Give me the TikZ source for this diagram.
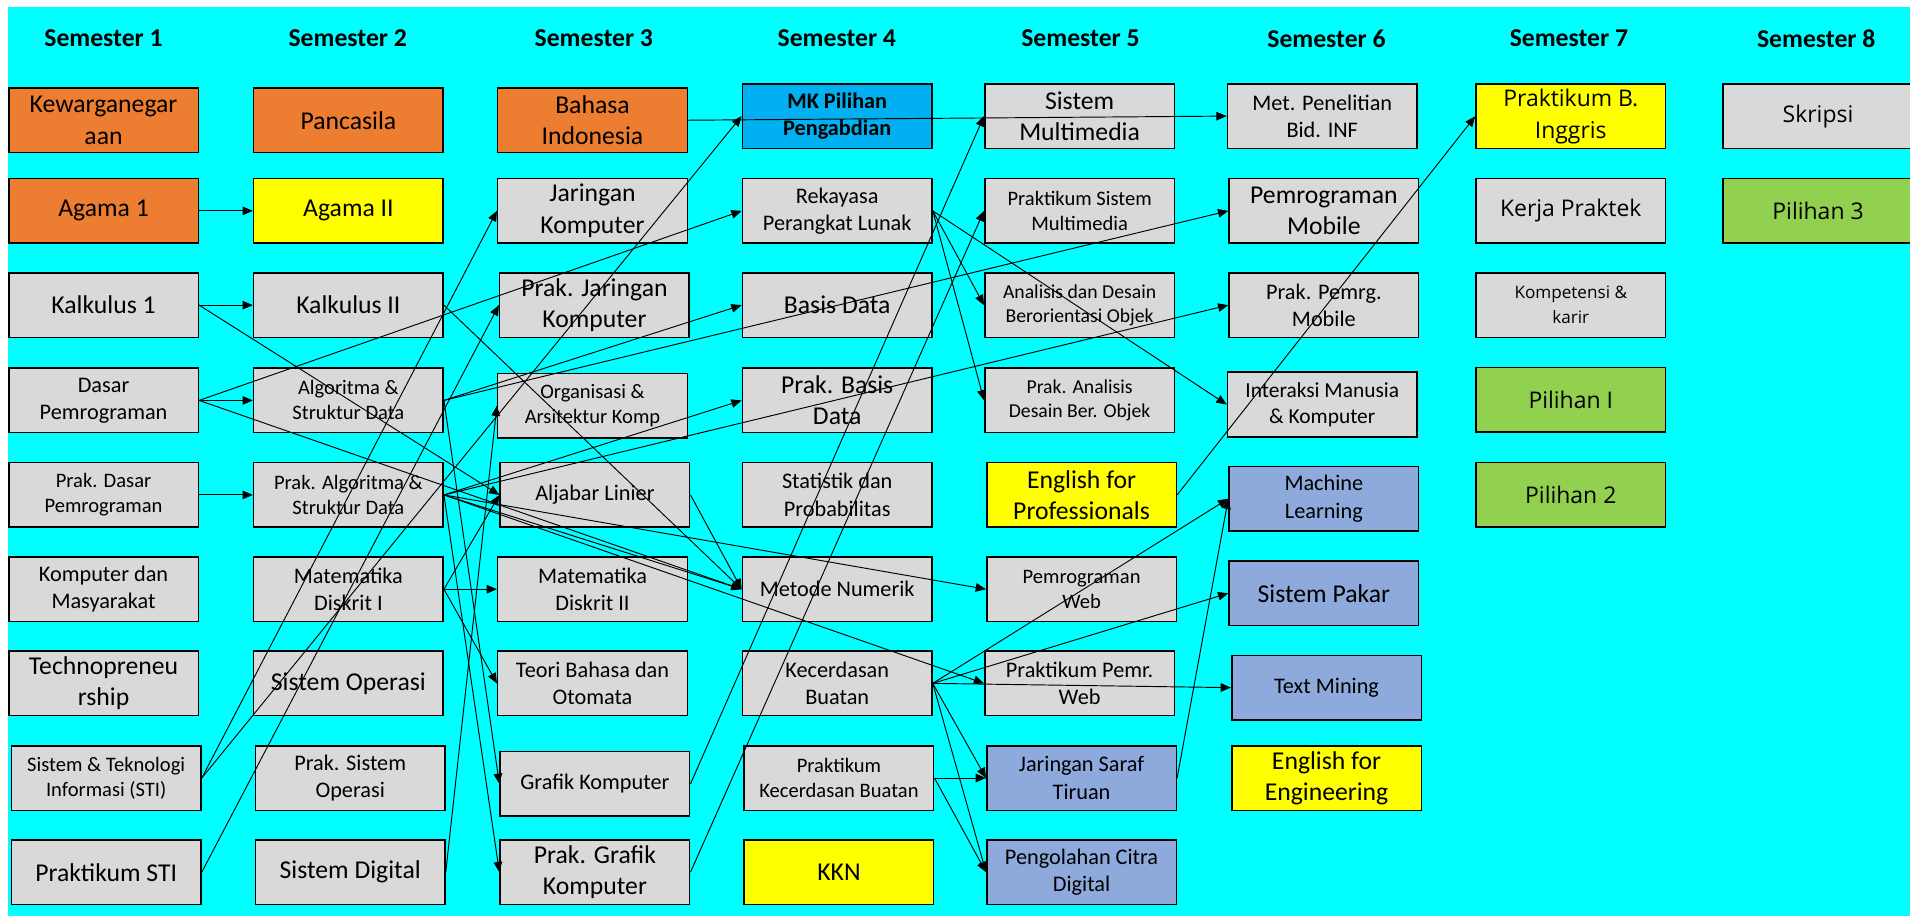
\documentclass[tikz,border=0pt]{standalone}
\usepackage{fontspec}
\setmainfont{Carlito}
\newfontfamily\osans{Open Sans}
\usepackage{tikz}
\usetikzlibrary{arrows.meta}
\definecolor{BgCyan}{HTML}{00FFFF}
\definecolor{MkOrange}{HTML}{ED7D31}
\definecolor{MkYellow}{HTML}{FFFF00}
\definecolor{MkGray}{HTML}{D9D9D9}
\definecolor{MkBlue}{HTML}{00B0F0}
\definecolor{MkLilac}{HTML}{8EA9DB}
\definecolor{MkGreen}{HTML}{92D050}
\tikzset{
  course/.style={rectangle, draw=black, line width=0.9pt, minimum width=3.89cm, minimum height=1.325cm, inner sep=1pt, align=center, font=\fontsize{15}{18.3}\selectfont},
  orangecourse/.style={course, fill=MkOrange},
  yellowcourse/.style={course, fill=MkYellow},
  graycourse/.style={course, fill=MkGray},
  bluecourse/.style={course, fill=MkBlue},
  lilaccourse/.style={course, fill=MkLilac},
  greencourse/.style={course, fill=MkGreen},
  midfont/.style={font=\fontsize{13}{15.9}\selectfont},
  smallfont/.style={font=\fontsize{12}{14.6}\selectfont},
  tinyfont/.style={font=\fontsize{11.5}{14}\selectfont},
  osfont/.style={font=\osans\fontsize{13.4}{18.5}\selectfont},
  semlabel/.style={font=\fontsize{15}{18}\selectfont\bfseries},
  arrow/.style={-{Triangle[length=6pt,width=5pt]}, line width=0.55pt, black}
}
\begin{document}
\begin{tikzpicture}[x=0.025cm, y=-0.025cm]
  \useasboundingbox (0,0) rectangle (1568,752);
  \fill[white] (0,0) rectangle (1568,752);
  \fill[BgCyan] (6.5,5.5) rectangle (1568,752);

  % semester headings
  \node[semlabel] (sem1) at (85,31.5) {Semester 1};
  \node[semlabel] (sem2) at (285.5,31.5) {Semester 2};
  \node[semlabel] (sem3) at (487.5,31.5) {Semester 3};
  \node[semlabel] (sem4) at (687,31.5) {Semester 4};
  \node[semlabel] (sem5) at (887,31.5) {Semester 5};
  \node[semlabel] (sem6) at (1089,31.5) {Semester 6};
  \node[semlabel] (sem7) at (1288,31.5) {Semester 7};
  \node[semlabel] (sem8) at (1491,31.5) {Semester 8};

  % semester 1
  \node[orangecourse] (kew) at (85,98.7) {Kewarganegar\\aan};
  \node[orangecourse] (agama1) at (85,173.1) {Agama 1};
  \node[graycourse] (kalk1) at (85,250.5) {Kalkulus 1};
  \node[graycourse, midfont] (dasar) at (85,328.7) {Dasar\\Pemrograman};
  \node[graycourse, smallfont] (pdasar) at (85,406.3) {Prak. Dasar\\Pemrograman};
  \node[graycourse, midfont] (kommas) at (85,483.7) {Komputer dan\\Masyarakat};
  \node[graycourse] (techno) at (85,561) {Technopreneu\\rship};
  \node[graycourse, smallfont] (sti) at (87.2,638.7) {Sistem \& Teknologi\\Informasi (STI)};
  \node[graycourse] (psti) at (87.2,716) {Praktikum STI};

  % semester 2
  \node[orangecourse] (pancasila) at (286,98.7) {Pancasila};
  \node[yellowcourse] (agama2) at (286,173.1) {Agama II};
  \node[graycourse] (kalk2) at (286,250.5) {Kalkulus II};
  \node[graycourse, smallfont] (algo) at (286,328.7) {Algoritma \&\\Struktur Data};
  \node[graycourse, smallfont] (palgo) at (286,406.3) {Prak. Algoritma \&\\Struktur Data};
  \node[graycourse, midfont] (mdis1) at (286,483.7) {Matematika\\Diskrit I};
  \node[graycourse] (sisop) at (286,561) {Sistem Operasi};
  \node[graycourse, midfont] (psisop) at (287.5,638.7) {Prak. Sistem\\Operasi};
  \node[graycourse] (sdig) at (287.5,716) {Sistem Digital};

  % semester 3
  \node[orangecourse] (bahasa) at (486.4,98.7) {Bahasa\\Indonesia};
  \node[graycourse] (jarkom) at (486.4,173.1) {Jaringan\\Komputer};
  \node[graycourse] (pjarkom) at (488,250.5) {Prak. Jaringan\\Komputer};
  \node[graycourse, smallfont] (orgkom) at (486.4,333) {Organisasi \&\\Arsitektur Komp};
  \node[graycourse, midfont] (aljabar) at (488.4,406.3) {Aljabar Linier};
  \node[graycourse, midfont] (mdis2) at (486.4,483.7) {Matematika\\Diskrit II};
  \node[graycourse, midfont] (teori) at (486.4,561) {Teori Bahasa dan\\Otomata};
  \node[graycourse, midfont] (grafik) at (488.4,643.5) {Grafik Komputer};
  \node[graycourse] (pgrafik) at (488.4,716) {Prak. Grafik\\Komputer};

  % semester 4
  \node[bluecourse, midfont, font=\fontsize{13}{15.9}\selectfont\bfseries] (mkpil) at (687.3,95.3) {MK Pilihan\\Pengabdian};
  \node[graycourse, midfont] (rpl) at (687.3,173.1) {Rekayasa\\Perangkat Lunak};
  \node[graycourse] (basisdata) at (687.3,250.5) {Basis Data};
  \node[graycourse] (pbasisdata) at (687.3,328.7) {Prak. Basis\\Data};
  \node[graycourse, midfont] (statistik) at (687.3,406.3) {Statistik dan\\Probabilitas};
  \node[graycourse, midfont] (metnum) at (687.3,483.7) {Metode Numerik};
  \node[graycourse, midfont] (kb) at (687.3,561) {Kecerdasan\\Buatan};
  \node[graycourse, smallfont] (pkb) at (688.7,638.7) {Praktikum\\Kecerdasan Buatan};
  \node[yellowcourse] (kkn) at (688.7,716) {KKN};

  % semester 5
  \node[graycourse] (sismul) at (886.3,95.3) {Sistem\\Multimedia};
  \node[graycourse, smallfont] (psismul) at (886.3,173.1) {Praktikum Sistem\\Multimedia};
  \node[graycourse, tinyfont] (adbo) at (886.3,250.5) {Analisis dan Desain\\Berorientasi Objek};
  \node[graycourse, tinyfont] (padbo) at (886.3,328.7) {Prak. Analisis\\Desain Ber. Objek};
  \node[yellowcourse] (efp) at (887.9,406.3) {English for\\Professionals};
  \node[graycourse, smallfont] (pweb) at (887.9,483.7) {Pemrograman\\Web};
  \node[graycourse, midfont] (ppweb) at (886.3,561) {Praktikum Pemr.\\Web};
  \node[lilaccourse, midfont] (jst) at (887.9,638.7) {Jaringan Saraf\\Tiruan};
  \node[lilaccourse, midfont] (pcd) at (887.9,716) {Pengolahan Citra\\Digital};

  % semester 6
  \node[graycourse, midfont] (metpen) at (1085.5,95.3) {Met. Penelitian\\Bid. INF};
  \node[graycourse] (pmobile) at (1086.8,173.1) {Pemrograman\\Mobile};
  \node[graycourse, midfont] (ppmobile) at (1086.8,250.5) {Prak. Pemrg.\\Mobile};
  \node[graycourse, font=\fontsize{12.5}{15.2}\selectfont] (imk) at (1085.5,332.1) {Interaksi Manusia\\\& Komputer};
  \node[lilaccourse, midfont] (ml) at (1086.8,409.4) {Machine\\Learning};
  \node[lilaccourse] (pakar) at (1086.8,487) {Sistem Pakar};
  \node[lilaccourse, midfont] (textmining) at (1089,564.5) {Text Mining};
  \node[yellowcourse] (efe) at (1089,638.7) {English for\\Engineering};

  % semester 7
  \node[yellowcourse, osfont] (pbi) at (1289.5,95.5) {Praktikum B.\\Inggris};
  \node[graycourse, osfont] (kp) at (1289.5,173) {Kerja Praktek};
  \node[graycourse, osfont, font=\osans\fontsize{10}{14.5}\selectfont] (karir) at (1289.5,250.5) {Kompetensi \&\\karir};
  \node[greencourse, osfont] (pil1) at (1289.5,328.3) {Pilihan I};
  \node[greencourse, osfont] (pil2) at (1289.5,406) {Pilihan 2};

  % semester 8
  \node[graycourse, osfont] (skripsi) at (1492.5,95.5) {Skripsi};
  \node[greencourse, osfont] (pil3) at (1492.5,173) {Pilihan 3};

  % prerequisites
  \draw[arrow] (agama1.east) -- (agama2.west);
  \draw[arrow] (kalk1.east) -- (kalk2.west);
  \draw[arrow] (kalk1.east) -- (aljabar.west);
  \draw[arrow] (dasar.east) -- (algo.west);
  \draw[arrow] (dasar.east) -- (rpl.west);
  \draw[arrow] (dasar.east) -- (metnum.west);
  \draw[arrow] (pdasar.east) -- (palgo.west);
  \draw[arrow] (sti.east) -- (jarkom.west);
  \draw[arrow] (sti.east) -- (mkpil.west);
  \draw[arrow] (psti.east) -- (pjarkom.west);
  \draw[arrow] (kalk2.east) -- (metnum.west);
  \draw[arrow] (algo.east) -- (basisdata.west);
  \draw[arrow] (algo.east) -- (pmobile.west);
  \draw[arrow] (algo.east) -- (grafik.west);
  \draw[arrow] (palgo.east) -- (pbasisdata.west);
  \draw[arrow] (palgo.east) -- (ppmobile.west);
  \draw[arrow] (palgo.east) -- (pweb.west);
  \draw[arrow] (palgo.east) -- (metnum.west);
  \draw[arrow] (palgo.east) -- (ppweb.west);
  \draw[arrow] (palgo.east) -- (pgrafik.west);
  \draw[arrow] (mdis1.east) -- (mdis2.west);
  \draw[arrow] (mdis1.east) -- (teori.west);
  \draw[arrow] (mdis1.east) -- (aljabar.west);
  \draw[arrow] (sdig.east) -- (orgkom.west);
  \draw[arrow] (bahasa.east) -- (metpen.west);
  \draw[arrow] (aljabar.east) -- (metnum.west);
  \draw[arrow] (grafik.east) -- (sismul.west);
  \draw[arrow] (pgrafik.east) -- (psismul.west);
  \draw[arrow] (rpl.east) -- (adbo.west);
  \draw[arrow] (rpl.east) -- (padbo.west);
  \draw[arrow] (rpl.east) -- (imk.west);
  \draw[arrow] (kb.east) -- (ml.west);
  \draw[arrow] (kb.east) -- (pakar.west);
  \draw[arrow] (kb.east) -- (textmining.west);
  \draw[arrow] (kb.east) -- (jst.west);
  \draw[arrow] (kb.east) -- (pcd.west);
  \draw[arrow] (pkb.east) -- (jst.west);
  \draw[arrow] (pkb.east) -- (pcd.west);
  \draw[arrow] (efp.east) -- (pbi.west);
  \draw[arrow] (jst.east) -- (ml.west);
\end{tikzpicture}
\end{document}
